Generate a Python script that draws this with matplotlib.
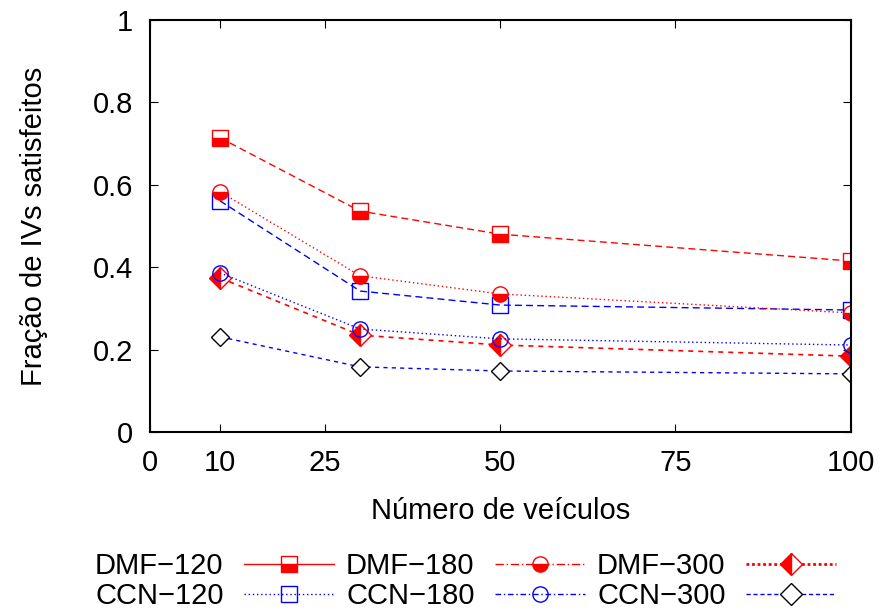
import matplotlib.pyplot as plt
from matplotlib.lines import Line2D

plt.rcParams['font.family'] = ['Liberation Sans', 'DejaVu Sans']

x = [10, 30, 50, 100]
dmf_120 = [0.714, 0.536, 0.480, 0.415]
dmf_180 = [0.583, 0.379, 0.335, 0.289]
dmf_300 = [0.374, 0.235, 0.211, 0.184]
ccn_120 = [0.561, 0.342, 0.308, 0.296]
ccn_180 = [0.386, 0.250, 0.226, 0.211]
ccn_300 = [0.231, 0.158, 0.148, 0.141]
err_small = [0.012, 0.008, 0.006, 0.006]

xticks = [0, 10, 25, 50, 75, 100]
yticks = [0, 0.2, 0.4, 0.6, 0.8, 1]
ylabels = ['0', '0.2', '0.4', '0.6', '0.8', '1']

fs = 21
fig = plt.figure(figsize=(8.87, 6.15), dpi=100)
ax = fig.add_axes((0.169, 0.2976, 0.79, 0.67))

ms = 11
ax.errorbar(x, dmf_120, yerr=err_small, color='red', ls=(0, (5, 3)), lw=1,
            marker='s', ms=ms, fillstyle='bottom', mfc='red', mfcalt='white',
            mec='red', capsize=4, elinewidth=0.8)
ax.errorbar(x, dmf_180, yerr=err_small, color='red', ls=(0, (1, 2)), lw=1,
            marker='o', ms=ms, fillstyle='bottom', mfc='red', mfcalt='white',
            mec='red', capsize=4, elinewidth=0.8)
ax.plot(x, dmf_300, color='red', ls=(0, (3, 3)), lw=1.2,
        marker='D', ms=ms, fillstyle='left', mfc='red', mfcalt='white', mec='red')
ax.plot(x, ccn_120, color='blue', ls=(0, (5, 3)), lw=1,
        marker='s', ms=ms, mfc='none', mec='blue')
ax.plot(x, ccn_180, color='blue', ls=(0, (1, 2)), lw=1,
        marker='o', ms=ms, mfc='none', mec='blue')
ax.plot(x, ccn_300, color='blue', ls=(0, (3, 3)), lw=1,
        marker='D', ms=9, mfc='white', mec='black')

ax.set_xlim(0, 100)
ax.set_ylim(0, 1)
ax.set_xticks(xticks)
ax.set_yticks(yticks)
ax.set_yticklabels(ylabels)
ax.tick_params(direction='in', top=True, right=True, labelsize=fs, length=6, pad=12)
for s in ax.spines.values():
    s.set_linewidth(1.5)

ax.set_xlabel('Número de veículos', fontsize=fs, labelpad=15)
ax.set_ylabel('Fração de IVs satisfeitos', fontsize=fs, labelpad=32)

# legend samples styled like the original key
key = [
    ('DMF\u2212120', dict(color='red', ls='-', lw=1, marker='s', fillstyle='bottom',
                          mfc='red', mfcalt='white', mec='red')),
    ('CCN\u2212120', dict(color='blue', ls=(0, (1, 2)), lw=1, marker='s', mfc='none', mec='blue')),
    ('DMF\u2212180', dict(color='red', ls=(0, (6, 2, 1, 2)), lw=1, marker='o', fillstyle='bottom',
                          mfc='red', mfcalt='white', mec='red')),
    ('CCN\u2212180', dict(color='blue', ls=(0, (4, 2, 1, 2)), lw=1, marker='o', mfc='none', mec='blue')),
    ('DMF\u2212300', dict(color='red', ls=(0, (1, 1)), lw=2, marker='D', fillstyle='left',
                          mfc='red', mfcalt='white', mec='red')),
    ('CCN\u2212300', dict(color='blue', ls=(0, (3, 2)), lw=1, marker='D', mfc='white', mec='black')),
]
handles = [Line2D([], [], ms=ms, **st) for _, st in key]
labels = [lb for lb, _ in key]
fig.legend(handles=handles, labels=labels,
           ncol=3, loc='lower center', bbox_to_anchor=(0.525, -0.035),
           frameon=False, fontsize=fs, markerfirst=False,
           handlelength=3.1, handletextpad=0.7, columnspacing=0.4,
           labelspacing=0.07)

fig.savefig('out.png', dpi=100)
